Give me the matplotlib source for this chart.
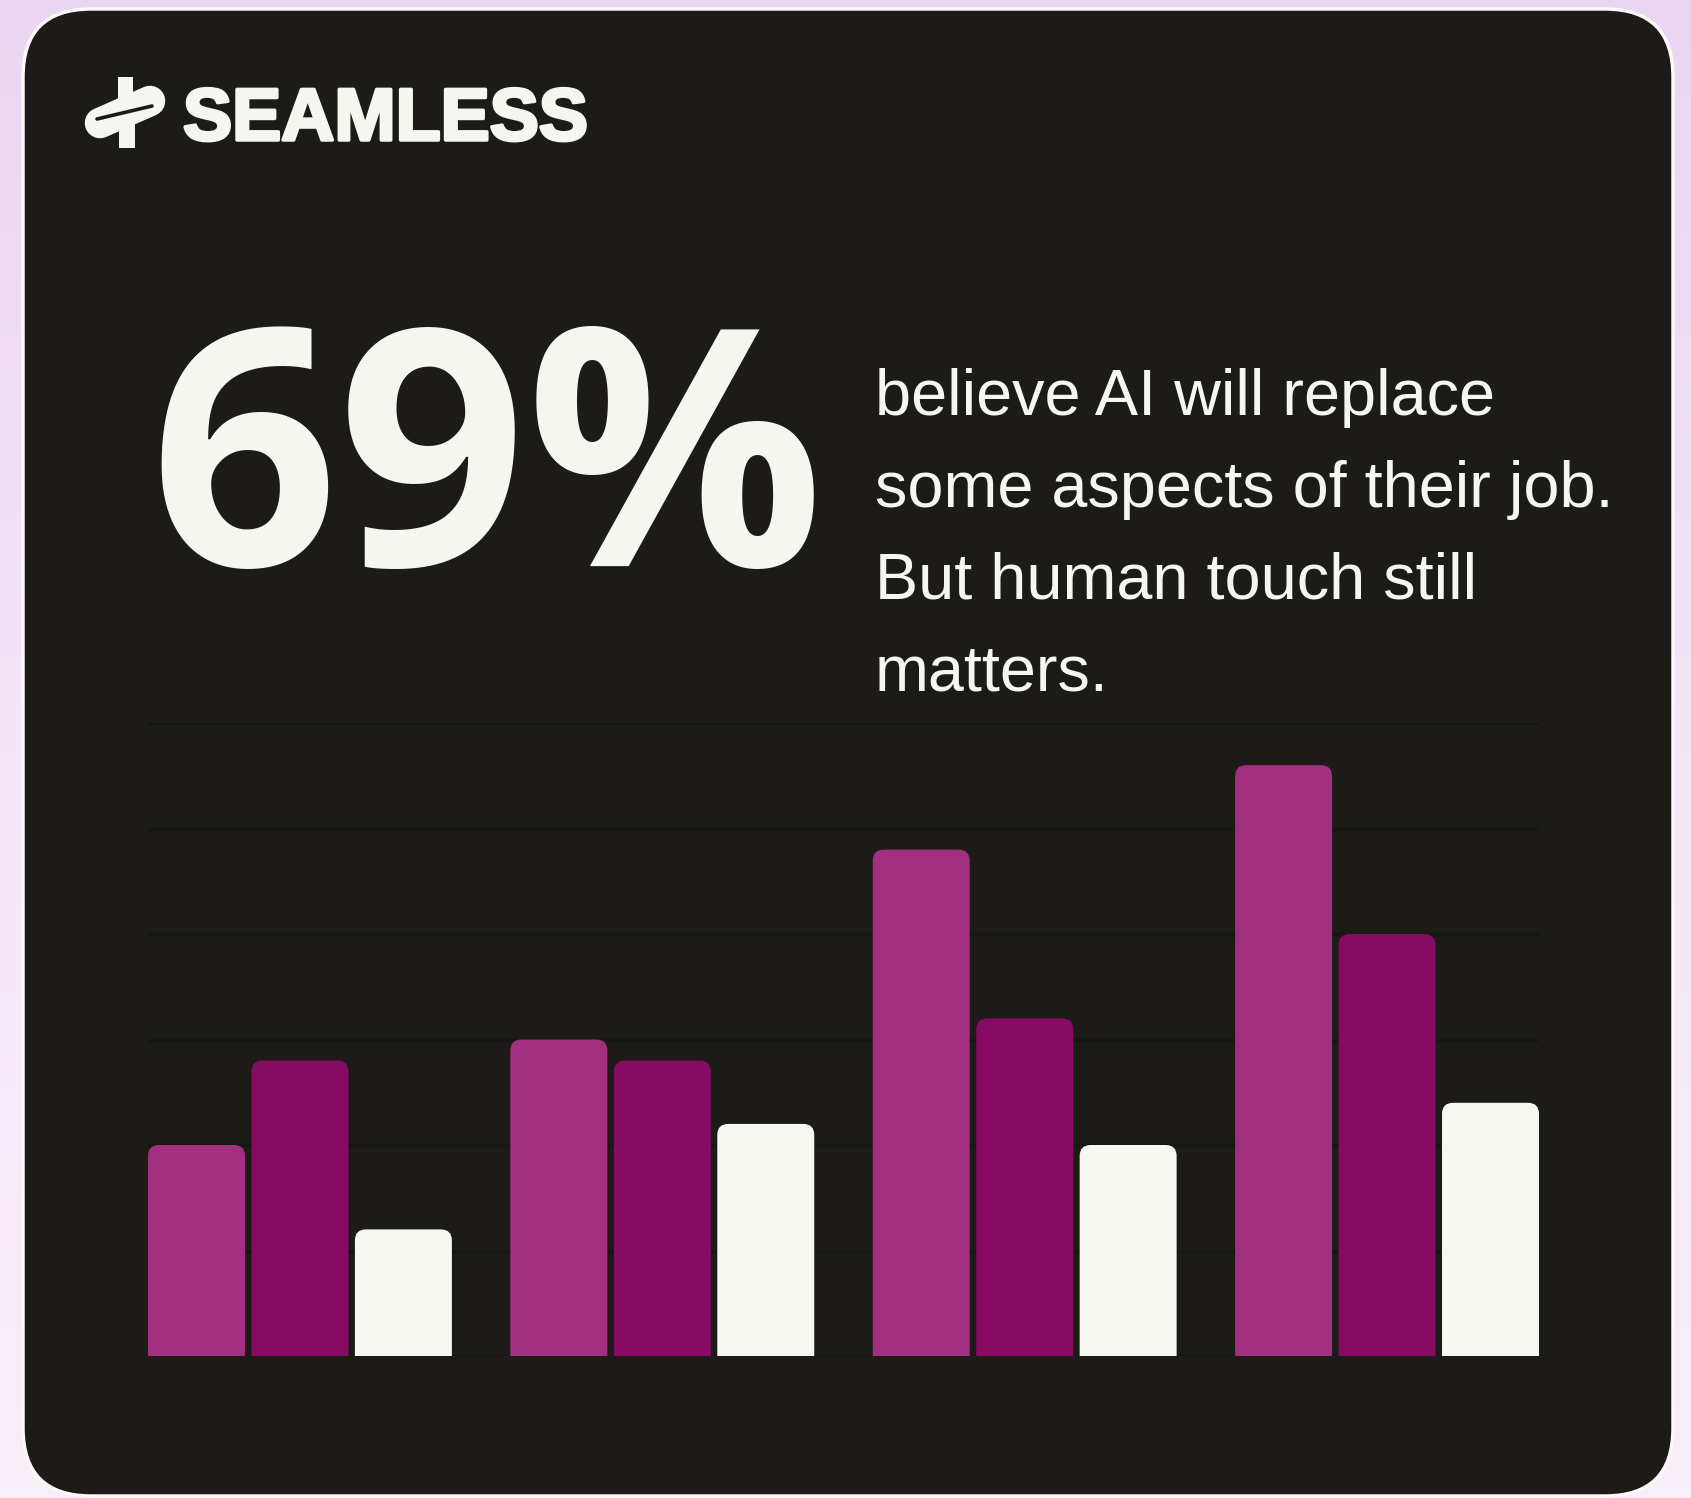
import numpy as np
import matplotlib
matplotlib.use("Agg")
import matplotlib.pyplot as plt
from matplotlib.patches import FancyBboxPatch, Rectangle
from matplotlib.colors import LinearSegmentedColormap
import matplotlib.patheffects as pe

# survey groups and the three series in each
groups = ["Q1", "Q2", "Q3", "Q4"]
series_a = [20, 30, 48, 56]
series_b = [28, 28, 32, 40]
series_c = [12, 22, 20, 24]
grid_levels = [0, 10, 20, 30, 40, 50, 60]

headline = "69%"
blurb = ["believe AI will replace",
         "some aspects of their job.",
         "But human touch still",
         "matters."]

W, H = 1691, 1498
CARD = "#1c1b17"
INK = "#f6f6f1"
COL_A = "#a32f80"
COL_B = "#870a63"
COL_C = "#f7f7f2"

fig = plt.figure(figsize=(W / 100, H / 100), dpi=100)

# soft lavender backdrop
bg = fig.add_axes([0, 0, 1, 1])
bg.axis("off")
cmap = LinearSegmentedColormap.from_list("lav", ["#ead6f2", "#f3e6f6", "#f8eff9"])
bg.imshow(np.linspace(0, 1, 256)[:, None], aspect="auto", cmap=cmap,
          extent=[0, 1, 0, 1], origin="upper")
bg.set_xlim(0, 1)
bg.set_ylim(0, 1)

# overlay in pixel units for the card, logo and copy
ov = fig.add_axes([0, 0, 1, 1])
ov.set_xlim(0, W)
ov.set_ylim(H, 0)
ov.axis("off")
ov.patch.set_alpha(0)

card = FancyBboxPatch((23, 9), 1650, 1487,
                      boxstyle="round,pad=0,rounding_size=68",
                      facecolor=CARD, edgecolor="#fbf8fa", linewidth=2.5)
ov.add_patch(card)

# logo mark: tilted stadium with two tabs and a slit
ov.add_patch(Rectangle((118, 77), 15, 24, facecolor=INK, edgecolor="none"))
ov.add_patch(Rectangle((119, 122), 16, 26, facecolor=INK, edgecolor="none"))
ov.plot([100, 150], [123, 101], color=INK, linewidth=22, solid_capstyle="round")
ov.plot([97, 152], [119, 106], color=CARD, linewidth=2.6, solid_capstyle="round")

ov.text(183, 140, "SEAMLESS", color=INK, fontsize=53, fontweight="bold",
        family="Liberation Sans", ha="left", va="baseline",
        path_effects=[pe.withStroke(linewidth=2.5, foreground=INK, joinstyle="round")])

ov.text(149, 566, headline, color=INK, fontsize=238, fontweight="bold",
        family="Open Sans", ha="left", va="baseline")

for i, line in enumerate(blurb):
    ov.text(875, 415 + i * 91.7, line, color=INK, fontsize=46.6,
            family="Liberation Sans", ha="left", va="baseline")

# bar chart
left_px, right_px = 148, 1539
base_px, top_px = 1356, 723
ax = fig.add_axes([left_px / W, 1 - base_px / H,
                   (right_px - left_px) / W, (base_px - top_px) / H])
ax.patch.set_alpha(0)

pitch = 0.2855
width = 0.2676
x = np.arange(len(groups))
xmin = x[0] - pitch - width / 2
xmax = x[-1] + pitch + width / 2
ax.set_xlim(xmin, xmax)
ax.set_ylim(0, 60)

ax.set_yticks(grid_levels)
ax.grid(axis="y", color="#161612", linewidth=2.2, zorder=0)
ax.set_axisbelow(True)
ax.tick_params(left=False, bottom=False, labelleft=False, labelbottom=False)
for s in ax.spines.values():
    s.set_visible(False)
ax.set_xticks([])

x_per_px = (xmax - xmin) / (right_px - left_px)
y_per_px = 60 / (base_px - top_px)
radius = 11 * x_per_px
aspect = y_per_px / x_per_px

for off, vals, col in [(-pitch, series_a, COL_A), (0, series_b, COL_B), (pitch, series_c, COL_C)]:
    bars = ax.bar(x + off, vals, width=width, color=col)
    for b in bars:
        bx, bw, bh = b.get_x(), b.get_width(), b.get_height()
        b.remove()
        ext = 2 * radius * aspect
        rb = FancyBboxPatch((bx, -ext), bw, bh + ext,
                            boxstyle=f"round,pad=0,rounding_size={radius}",
                            mutation_aspect=aspect, facecolor=col,
                            edgecolor="none", zorder=3)
        ax.add_patch(rb)

fig.savefig("out.png", dpi=100, facecolor="#ead6f2")
